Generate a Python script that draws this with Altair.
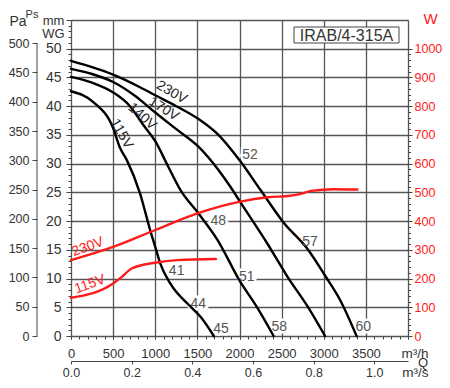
import altair as alt
import pandas as pd

# ---- fan curves: airflow Q (m3/h) vs static pressure (mm WG) ----
q_230 = [0, 250, 500, 820, 1000, 1250, 1510, 1750, 2010, 2250, 2520, 2810, 3020, 3200, 3390]
p_230 = [47.9, 46.8, 45.5, 43.3, 41.9, 40.0, 37.8, 35.0, 30.4, 25.4, 19.8, 15.1, 10.4, 6.1, 0.0]
q_170 = [0, 250, 500, 750, 1000, 1250, 1510, 1750, 1900, 2010, 2330, 2570, 2810, 3015]
p_170 = [46.5, 45.6, 44.2, 41.9, 38.9, 36.0, 33.0, 28.9, 25.8, 23.3, 16.1, 10.3, 5.1, 0.0]
q_140 = [0, 250, 500, 700, 850, 1000, 1150, 1300, 1510, 1740, 2010, 2200, 2405]
p_140 = [45.1, 44.1, 42.4, 40.0, 36.9, 33.9, 29.6, 25.4, 21.4, 16.7, 9.4, 5.2, 0.0]
q_115 = [0, 265, 500, 580, 660, 820, 940, 1000, 1060, 1180, 1420, 1540, 1695]
p_115 = [42.6, 40.7, 36.2, 32.8, 30.7, 24.8, 18.4, 15.5, 12.6, 9.1, 5.1, 3.3, 0.0]

# ---- absorbed power (W) ----
qw_230 = [0, 500, 1000, 1500, 2010, 2330, 2600, 2700, 2850, 3120, 3400]
w_230 = [264, 310, 369, 427, 468, 483, 488, 493, 505, 511, 510]
qw_115 = [0, 500, 600, 720, 1000, 1260, 1720]
w_115 = [133, 183, 205, 235, 255, 264, 268]

# ---- labels ----
curve_labels = ["230V", "170V", "140V", "115V"]
curve_label_q = [1195, 1100, 845, 600]
curve_label_p = [42.4, 39.5, 38.2, 35.2]
curve_label_angle = [30, 32, 42, 60]

eff_labels = ["52", "57", "48", "51", "58", "60", "41", "44", "45"]
eff_q = [2125, 2837, 1748, 2085, 2473, 3470, 1254, 1511, 1780]
eff_p = [31.5, 16.4, 20.1, 10.2, 1.5, 1.5, 11.4, 5.6, 1.3]

power_labels = ["230V", "115V"]
power_label_q = [200, 225]
power_label_w = [310, 180]

model_name = ["IRAB/4-315A"]

Q_MAX = 4000
MM_MAX = 55
PA_PER_MM = 9.81
W_PER_MM = 20

FONT = "Liberation Sans"
GRID = "#555555"
TICK = "#444444"
LAB = "#333333"
RED = "#ff1a1a"

fan_rows = []
for name, qs, ps in [("230V", q_230, p_230), ("170V", q_170, p_170),
                     ("140V", q_140, p_140), ("115V", q_115, p_115)]:
    for q, p in zip(qs, ps):
        fan_rows.append({"curve": name, "Q": q, "mm": p})
fan_df = pd.DataFrame(fan_rows)

pow_rows = []
for name, qs, ws in [("230V", qw_230, w_230), ("115V", qw_115, w_115)]:
    for q, w in zip(qs, ws):
        pow_rows.append({"curve": name, "Q": q, "W": w})
pow_df = pd.DataFrame(pow_rows)

clab_df = pd.DataFrame({"t": curve_labels, "Q": curve_label_q, "mm": curve_label_p, "ang": curve_label_angle})
eff_df = pd.DataFrame({"t": eff_labels, "Q": eff_q, "mm": eff_p})
plab_df = pd.DataFrame({"t": power_labels, "Q": power_label_q, "W": power_label_w})
box_df = pd.DataFrame({"t": model_name})
pa_df = pd.DataFrame({"lo": [0], "hi": [500]})


def qscale():
    return alt.Scale(domain=[0, Q_MAX], nice=False)


def mmscale():
    return alt.Scale(domain=[0, MM_MAX], nice=False)


def wscale():
    return alt.Scale(domain=[0, MM_MAX * W_PER_MM], nice=False)


common_axis = dict(labelFont=FONT, labelColor=LAB, tickColor=TICK, titleFont=FONT,
                   titleColor=LAB, titleFontWeight="normal", labelFlush=False,
                   labelOverlap=False)

# white halo behind the efficiency numbers (masks the grid)
halo = alt.Chart(eff_df).mark_text(font=FONT, fontSize=14, color="white", stroke="white",
                                   strokeWidth=5).encode(
    x=alt.X("Q:Q", scale=qscale(), axis=None),
    y=alt.Y("mm:Q", scale=mmscale(), axis=None),
    text="t:N",
)

fan = alt.Chart(fan_df).mark_line(color="black", strokeWidth=2.4, interpolate="monotone",
                                  strokeCap="round").encode(
    x=alt.X("Q:Q", scale=qscale(), axis=alt.Axis(
        orient="bottom", values=list(range(0, Q_MAX + 1, 500)), grid=True, gridColor=GRID,
        gridWidth=1.3, domain=False, tickSize=3, labelPadding=8, format="d",
        labelExpr="datum.value < 4000 ? datum.label : ''", labelFontSize=13,
        title="m³/h", titleX=357, titleY=21.5, titleAlign="right", titleBaseline="alphabetic",
        titleFontSize=13.5, **common_axis)),
    y=alt.Y("mm:Q", scale=mmscale(), axis=alt.Axis(
        orient="left", values=list(range(0, MM_MAX + 1, 5)), grid=True, gridColor=GRID,
        gridWidth=1.3, domain=False, tickSize=5, labelPadding=5, labelFontSize=14,
        labelExpr="datum.value < 55 ? datum.label : ''",
        title=["mm", "WG"], titleAngle=0, titleX=-18, titleY=-6, titleAlign="center",
        titleBaseline="top", titleLineHeight=13, titleFontSize=13, **common_axis)),
    detail="curve:N",
)

power = alt.Chart(pow_df).transform_calculate(qs="datum.Q / 3600").mark_line(
    color=RED, strokeWidth=2.4, interpolate="monotone", strokeCap="round").encode(
    x=alt.X("qs:Q", scale=alt.Scale(domain=[0, Q_MAX / 3600], nice=False), axis=alt.Axis(
        orient="bottom", offset=25, values=[0, 0.2, 0.4, 0.6, 0.8, 1.0], format=".1f",
        tickSize=3, labelPadding=2, domain=True, domainColor=TICK, grid=False,
        labelFontSize=12.5, title="m³/s", titleX=357, titleY=15, titleAlign="right",
        titleBaseline="alphabetic", titleFontSize=13.5, **common_axis)),
    y=alt.Y("W:Q", scale=wscale(), axis=alt.Axis(
        orient="right", values=list(range(0, 1001, 100)), tickSize=4, labelPadding=2,
        domain=False, grid=False, labelFontSize=12.5, format="d", title="W", titleAngle=0,
        titleX=22, titleY=3.5, titleBaseline="alphabetic", titleAlign="center",
        titleFontSize=15, **{**common_axis, "labelColor": RED, "titleColor": RED})),
    detail="curve:N",
)

fan_labels = alt.Chart(clab_df).mark_text(font=FONT, fontSize=14, color="#222222").encode(
    x=alt.X("Q:Q", scale=qscale(), axis=alt.Axis(
        orient="bottom", values=list(range(0, Q_MAX + 1, 100)), tickSize=3, labels=False,
        domain=False, grid=False, title=None, tickColor=TICK)),
    y=alt.Y("mm:Q", scale=mmscale(), axis=alt.Axis(
        orient="left", values=list(range(0, MM_MAX + 1)), tickSize=3, labels=False,
        domain=False, grid=False, title=None, tickColor=TICK)),
    text="t:N",
    angle=alt.Angle("ang:Q", scale=None),
)

eff_text = alt.Chart(eff_df).mark_text(font=FONT, fontSize=14, color="#555555").encode(
    x=alt.X("Q:Q", scale=qscale(), axis=None),
    y=alt.Y("mm:Q", scale=mmscale(), axis=None),
    text="t:N",
)

power_text = alt.Chart(plab_df).mark_text(font=FONT, fontSize=14, color=RED, angle=340).encode(
    x=alt.X("Q:Q", scale=qscale(), axis=None),
    y=alt.Y("W:Q", scale=wscale(), axis=alt.Axis(
        orient="right", values=list(range(0, 1001, 20)), tickSize=2.5, labels=False,
        domain=False, grid=False, title=None, tickColor=TICK)),
    text="t:N",
)

pa_axis = alt.Chart(pa_df).mark_rule(color=TICK, strokeWidth=1).encode(
    x=alt.value(-34),
    y=alt.Y("lo:Q", scale=alt.Scale(domain=[0, MM_MAX * PA_PER_MM], nice=False), axis=alt.Axis(
        orient="left", offset=34, values=list(range(0, 501, 50)), tickSize=5, labelPadding=3,
        domain=False, grid=False, labelFontSize=12.5, title="Pa", titleAngle=0, titleX=-19.5,
        titleY=5, titleAlign="center", titleBaseline="alphabetic", titleFontSize=14,
        **common_axis)),
    y2="hi:Q",
)

box = alt.Chart(box_df).mark_rect(fill="white", stroke=TICK, strokeWidth=1).encode(
    x=alt.value(223), x2=alt.value(328), y=alt.value(7), y2=alt.value(23))
box_text = alt.Chart(box_df).mark_text(font=FONT, fontSize=16, color=LAB,
                                       baseline="alphabetic").encode(
    x=alt.value(275.5), y=alt.value(20.5), text="t:N")

ps_text = alt.Chart(box_df).mark_text(font=FONT, fontSize=11, color=LAB,
                                      baseline="alphabetic").encode(
    x=alt.value(-39), y=alt.value(-2.5), text=alt.value("Ps"))

q_text = alt.Chart(box_df).mark_text(font=FONT, fontSize=13, color=LAB, align="right",
                                     baseline="alphabetic").encode(
    x=alt.value(357), y=alt.value(347), text=alt.value("Q"))

chart = alt.layer(
    halo, fan, power, fan_labels, eff_text, power_text, pa_axis, box, box_text, ps_text, q_text
).resolve_scale(x="independent", y="independent").properties(
    width=337, height=316,
    padding={"left": 63, "top": 12, "right": 34, "bottom": 43},
    autosize=alt.AutoSizeParams(type="none"),
).configure_view(stroke=None).configure(background="white")

chart.save("out.html", embed_options={"renderer": "svg", "actions": False})
